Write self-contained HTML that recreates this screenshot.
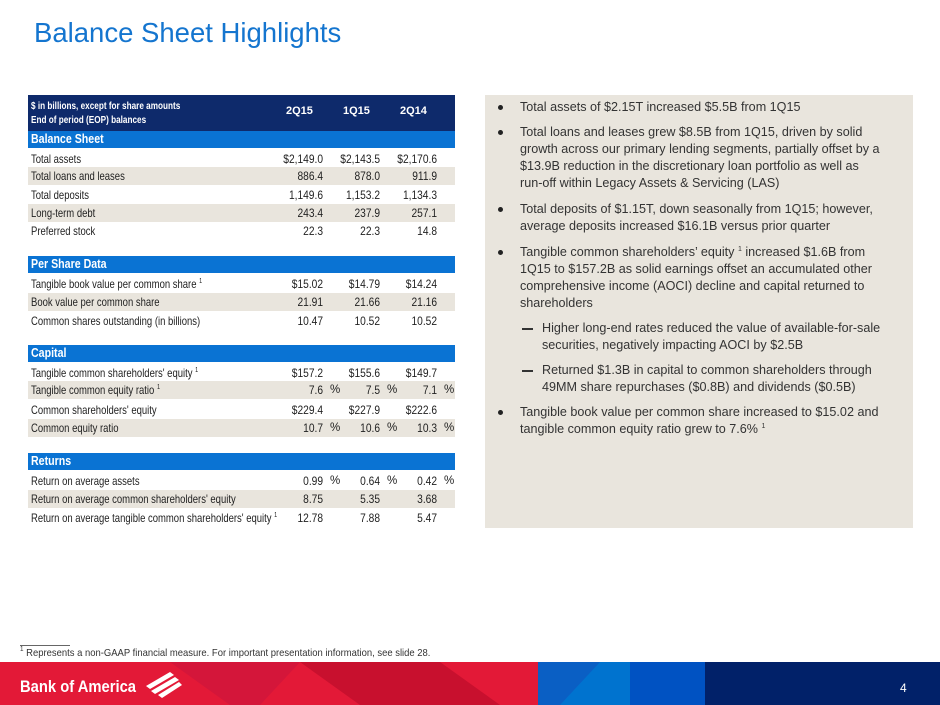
<!DOCTYPE html>
<html><head><meta charset="utf-8"><style>
*{margin:0;padding:0;box-sizing:border-box}
body{width:940px;height:705px;position:relative;background:#fff;font-family:"Liberation Sans",sans-serif;overflow:hidden}
.a{position:absolute}
.t{font-family:"Liberation Sans",sans-serif;font-size:11px;color:#222}
.row{position:absolute;left:28px;width:427px;height:18px;line-height:18px}
.sh{background:#e9e5dd}
.lab{position:absolute;left:3px;white-space:nowrap;font-size:12px;transform:scaleX(0.79);transform-origin:left center}
.v{position:absolute;text-align:right;width:70px;white-space:nowrap;font-size:12px;transform:scaleX(0.85);transform-origin:right center}
.c1{left:225px}.c2{left:282px}.c3{left:339px}
.p{position:absolute;font-size:11.5px}
.p1{left:302px}.p2{left:359px}.p3{left:416px}
.hd{position:absolute;left:28px;width:427px;height:17px;line-height:17px;background:#0a73d3;color:#fff;font-weight:bold;padding-left:3px}
.hd span{display:inline-block;font-size:12.5px;transform:scaleX(0.85);transform-origin:left}
sup{font-size:7px;vertical-align:baseline;position:relative;top:-5px;line-height:0}
.bt{font-size:12.6px;color:#333;white-space:nowrap;line-height:17px}
.dot{position:absolute;width:5px;height:5px;border-radius:50%;background:#222}
</style></head><body>
<div class="a" style="left:34px;top:17px;font-size:27.5px;color:#1475cf">Balance Sheet Highlights</div>

<div class="a t" style="left:28px;top:95px;width:427px;height:36px;background:#0e2a6b;color:#fff;font-weight:bold">
 <div class="a" style="left:3px;top:4px;font-size:10.5px;line-height:14px;transform:scaleX(0.78);transform-origin:left;white-space:nowrap">$ in billions, except for share amounts<br>End of period (EOP) balances</div>
 <div class="a" style="left:258px;top:10px">2Q15</div>
 <div class="a" style="left:315px;top:10px">1Q15</div>
 <div class="a" style="left:372px;top:10px">2Q14</div>
</div>
<div class="hd t" style="top:131px"><span>Balance Sheet</span></div>
<div class="row t" style="top:150px"><span class="lab">Total assets</span><span class="v c1">$2,149.0</span><span class="v c2">$2,143.5</span><span class="v c3">$2,170.6</span></div>
<div class="row t sh" style="top:167px"><span class="lab">Total loans and leases</span><span class="v c1">886.4</span><span class="v c2">878.0</span><span class="v c3">911.9</span></div>
<div class="row t" style="top:186px"><span class="lab">Total deposits</span><span class="v c1">1,149.6</span><span class="v c2">1,153.2</span><span class="v c3">1,134.3</span></div>
<div class="row t sh" style="top:204px"><span class="lab">Long-term debt</span><span class="v c1">243.4</span><span class="v c2">237.9</span><span class="v c3">257.1</span></div>
<div class="row t" style="top:222px"><span class="lab">Preferred stock</span><span class="v c1">22.3</span><span class="v c2">22.3</span><span class="v c3">14.8</span></div>

<div class="hd t" style="top:256px"><span>Per Share Data</span></div>
<div class="row t" style="top:275px"><span class="lab">Tangible book value per common share <sup>1</sup></span><span class="v c1">$15.02</span><span class="v c2">$14.79</span><span class="v c3">$14.24</span></div>
<div class="row t sh" style="top:293px"><span class="lab">Book value per common share</span><span class="v c1">21.91</span><span class="v c2">21.66</span><span class="v c3">21.16</span></div>
<div class="row t" style="top:312px"><span class="lab">Common shares outstanding (in billions)</span><span class="v c1">10.47</span><span class="v c2">10.52</span><span class="v c3">10.52</span></div>

<div class="hd t" style="top:345px"><span>Capital</span></div>
<div class="row t" style="top:364px"><span class="lab">Tangible common shareholders' equity <sup>1</sup></span><span class="v c1">$157.2</span><span class="v c2">$155.6</span><span class="v c3">$149.7</span></div>
<div class="row t sh" style="top:381px"><span class="lab">Tangible common equity ratio <sup>1</sup></span><span class="v c1">7.6</span><span class="p p1">%</span><span class="v c2">7.5</span><span class="p p2">%</span><span class="v c3">7.1</span><span class="p p3">%</span></div>
<div class="row t" style="top:401px"><span class="lab">Common shareholders' equity</span><span class="v c1">$229.4</span><span class="v c2">$227.9</span><span class="v c3">$222.6</span></div>
<div class="row t sh" style="top:419px"><span class="lab">Common equity ratio</span><span class="v c1">10.7</span><span class="p p1">%</span><span class="v c2">10.6</span><span class="p p2">%</span><span class="v c3">10.3</span><span class="p p3">%</span></div>

<div class="hd t" style="top:453px"><span>Returns</span></div>
<div class="row t" style="top:472px"><span class="lab">Return on average assets</span><span class="v c1">0.99</span><span class="p p1">%</span><span class="v c2">0.64</span><span class="p p2">%</span><span class="v c3">0.42</span><span class="p p3">%</span></div>
<div class="row t sh" style="top:490px"><span class="lab">Return on average common shareholders' equity</span><span class="v c1">8.75</span><span class="v c2">5.35</span><span class="v c3">3.68</span></div>
<div class="row t" style="top:509px"><span class="lab">Return on average tangible common shareholders' equity <sup>1</sup></span><span class="v c1">12.78</span><span class="v c2">7.88</span><span class="v c3">5.47</span></div>

<div class="a" style="left:485px;top:95px;width:428px;height:433px;background:#e9e5dd"></div>
<div class="dot" style="left:498px;top:105px"></div>
<div class="a bt" style="left:520px;top:99px">Total assets of $2.15T increased $5.5B from 1Q15</div>
<div class="dot" style="left:498px;top:130px"></div>
<div class="a bt" style="left:520px;top:124px">Total loans and leases grew $8.5B from 1Q15, driven by solid<br>growth across our primary lending segments, partially offset by a<br>$13.9B reduction in the discretionary loan portfolio as well as<br>run-off within Legacy Assets &amp; Servicing (LAS)</div>
<div class="dot" style="left:498px;top:207px"></div>
<div class="a bt" style="left:520px;top:201px">Total deposits of $1.15T, down seasonally from 1Q15; however,<br>average deposits increased $16.1B versus prior quarter</div>
<div class="dot" style="left:498px;top:250px"></div>
<div class="a bt" style="left:520px;top:244px">Tangible common shareholders’ equity <sup>1</sup> increased $1.6B from<br>1Q15 to $157.2B as solid earnings offset an accumulated other<br>comprehensive income (AOCI) decline and capital returned to<br>shareholders</div>
<div class="a" style="left:522px;top:328px;width:11px;height:1.5px;background:#333"></div>
<div class="a bt" style="left:542px;top:320px">Higher long-end rates reduced the value of available-for-sale<br>securities, negatively impacting AOCI by $2.5B</div>
<div class="a" style="left:522px;top:370px;width:11px;height:1.5px;background:#333"></div>
<div class="a bt" style="left:542px;top:362px">Returned $1.3B in capital to common shareholders through<br>49MM share repurchases ($0.8B) and dividends ($0.5B)</div>
<div class="dot" style="left:498px;top:410px"></div>
<div class="a bt" style="left:520px;top:404px">Tangible book value per common share increased to $15.02 and<br>tangible common equity ratio grew to 7.6% <sup>1</sup></div>

<div class="a" style="left:20px;top:645px;width:50px;height:1px;background:#666"></div>
<div class="a" style="left:20px;top:647px;font-size:10.5px;color:#333;white-space:nowrap;transform:scaleX(0.9);transform-origin:left"><sup>1</sup> Represents a non-GAAP financial measure. For important presentation information, see slide 28.</div>

<svg class="a" style="left:0;top:662px" width="940" height="43">
<rect x="0" y="0" width="540" height="43" fill="#e31937"/>
<polygon points="170,0 300,0 260,43 230,43" fill="#d4163a"/>
<polygon points="300,0 470,0 540,43 360,43" fill="#c8102e"/>
<polygon points="440,0 540,0 540,43 500,43" fill="#e31937"/>
<rect x="538" y="0" width="95" height="43" fill="#0a5fc4"/>
<polygon points="560,43 600,0 633,0 633,43" fill="#0073cf"/>
<rect x="630" y="0" width="75" height="43" fill="#0052c2"/>
<rect x="705" y="0" width="235" height="43" fill="#012169"/>
<text x="20" y="30" font-family="Liberation Sans,sans-serif" font-weight="bold" font-size="17" fill="#fff" textLength="116" lengthAdjust="spacingAndGlyphs">Bank of America</text>
<g fill="#fff"><polygon points="146,24 170,10 174,13 150,27"/><polygon points="151,29 175,15 179,18 155,32"/><polygon points="158,33 179,20 182,23 162,36"/></g>
<text x="900" y="30" font-size="12" fill="#fff">4</text>
</svg>
</body></html>
